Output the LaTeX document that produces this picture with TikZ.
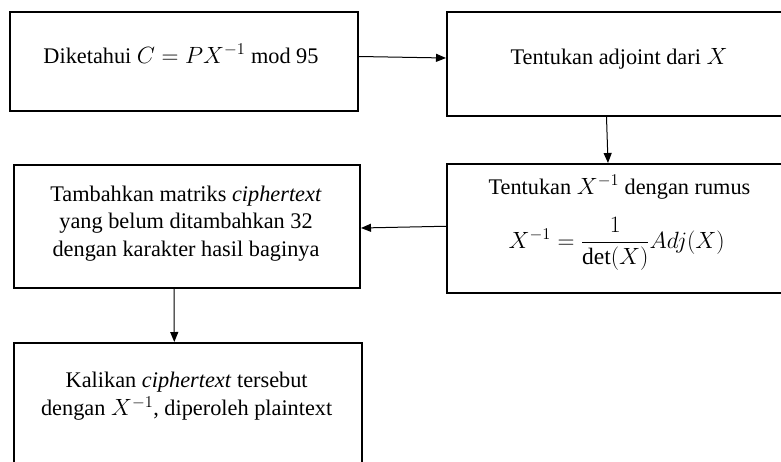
\RequirePackage{fix-cm}
\documentclass[tikz,border=0pt]{standalone}
\usepackage{amsmath}
\usepackage{fontspec}
\setmainfont{Liberation Serif}
\usetikzlibrary{arrows.meta}
\newcommand{\mth}[1]{{\fontsize{23.5}{27}\selectfont$#1$}}
\begin{document}
\begin{tikzpicture}[x=1pt,y=-1pt,
  box/.style={draw, line width=2pt, rectangle, inner sep=0pt, anchor=north west},
  conn/.style={line width=1pt, -{Triangle[length=10pt,width=8pt]}},
  txt/.style={align=center, font=\fontsize{22.3}{27.5}\selectfont, inner sep=0pt}]
\useasboundingbox (0,0) rectangle (781,461);
\clip (0,0) rectangle (781,461);
\node[box, minimum width=348pt, minimum height=99pt] (b1) at (9,11) {};
\node[box, minimum width=347pt, minimum height=104pt] (b2) at (446,11) {};
\node[box, minimum width=347pt, minimum height=128.5pt] (b3) at (446,163) {};
\node[box, minimum width=346pt, minimum height=123pt] (b4) at (13,164) {};
\node[box, minimum width=348pt, minimum height=130pt] (b5) at (13,342) {};
\node[txt, anchor=base] (t1) at (181,63.3) {Diketahui \mth{C=PX^{-1}} mod 95};
\node[txt, anchor=base] (t2) at (619,64.3) {Tentukan adjoint dari \mth{X}};
\node[txt, anchor=base] (t3) at (619.5,194.3) {Tentukan \mth{X^{-1}} dengan rumus};
\node[txt, anchor=base] (t3f) at (616.7,248) {\mth{X^{-1}=\dfrac{1}{\det(X)}Adj(X)}};
\node[txt] (t4) at (186,223.5) {Tambahkan matriks \textit{ciphertext}\\yang belum ditambahkan 32\\dengan karakter hasil baginya};
\node[txt, font=\fontsize{22.3}{28}\selectfont] (t5) at (186.7,396.5) {Kalikan \textit{ciphertext} tersebut\\dengan \mth{X^{-1}}, diperoleh plaintext};
\draw[conn] ([yshift=5pt]b1.east) -- ([yshift=6pt]b2.west);
\draw[conn] ([xshift=-14pt]b2.south) -- ([xshift=-12.5pt]b3.north);
\draw[conn] ([yshift=2pt]b3.west) -- ([yshift=-1.5pt]b4.east);
\draw[conn] ([xshift=-13pt]b4.south) -- ([xshift=-13.7pt]b5.north);
\end{tikzpicture}
\end{document}
